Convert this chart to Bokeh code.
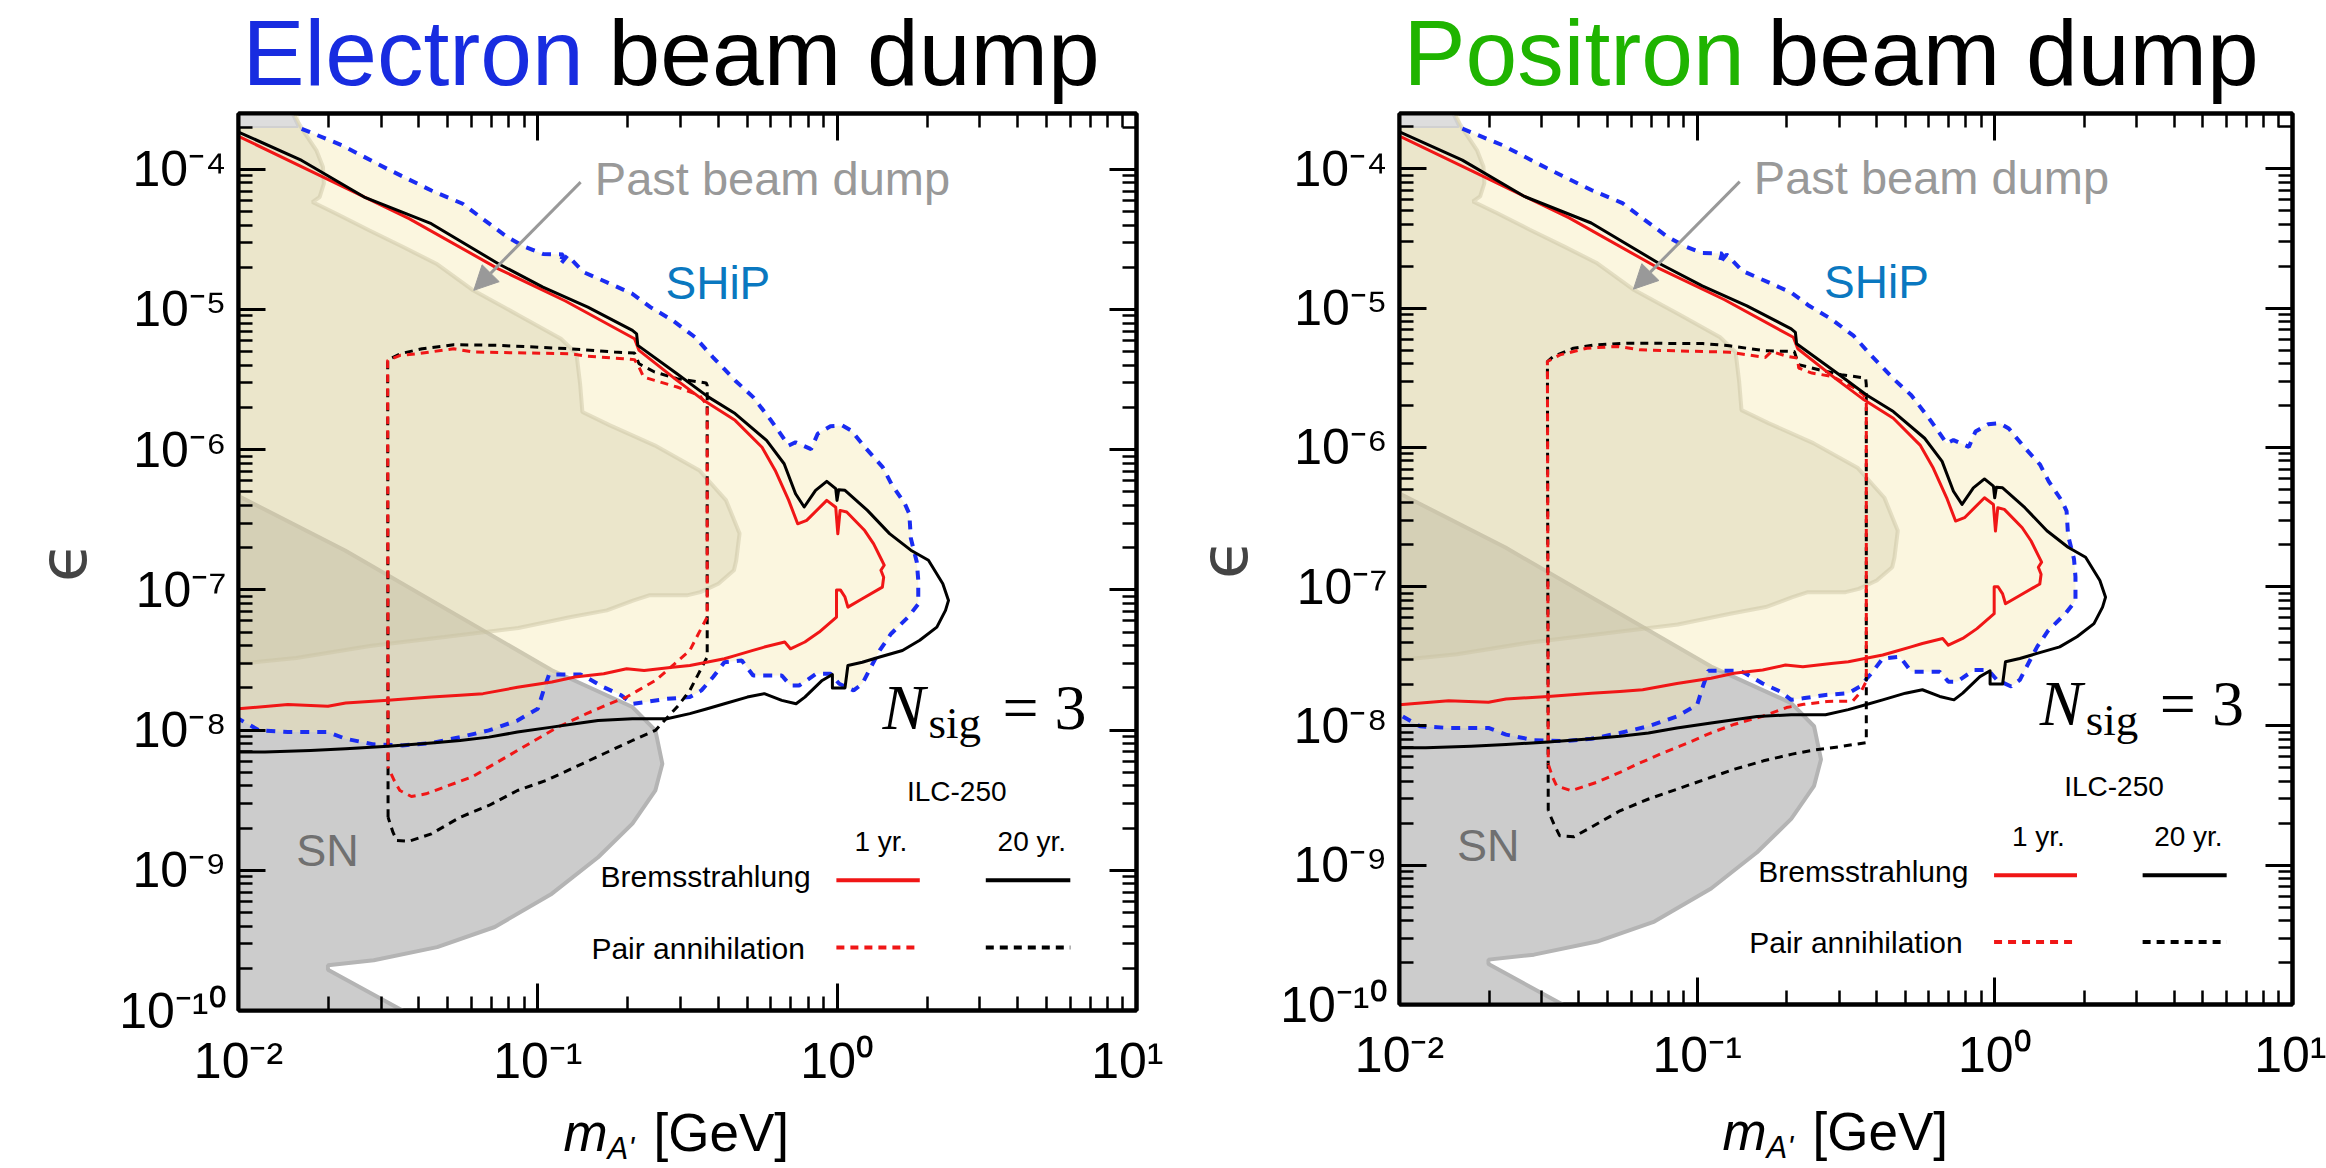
from bokeh.plotting import figure
from bokeh.models import (Range1d, FixedTicker, CustomJSTickFormatter, LogAxis,
                          Label, Arrow, NormalHead)
from bokeh.layouts import row, column
from bokeh.embed import file_html
from bokeh.resources import INLINE

# ---------------- axis ticks ----------------
x_ticks = [1e-2, 1e-1, 1e0, 1e1]
x_tick_labels = ["10⁻²", "10⁻¹", "10⁰", "10¹"]
y_ticks = [1e-10, 1e-9, 1e-8, 1e-7, 1e-6, 1e-5, 1e-4]
y_tick_labels = ["10⁻¹⁰", "10⁻⁹", "10⁻⁸", "10⁻⁷", "10⁻⁶", "10⁻⁵", "10⁻⁴"]
x_minor = [m * d for d in x_ticks[:-1] for m in range(2, 10)]
y_minor = [m * d for d in y_ticks for m in range(2, 10) if m * d <= 2.5e-4]

# ---------------- Bremsstrahlung, 20 yr (black solid) ----------------
brem20_x = [0.01, 0.01626, 0.0263, 0.04406, 0.0738, 0.104, 0.1469, 0.207, 0.2138, 0.2158,
            0.2917, 0.3707, 0.456, 0.581, 0.665, 0.726, 0.776, 0.847, 0.923, 0.989,
            0.999, 1.012, 1.062, 1.262, 1.496, 1.762, 2.018, 2.254, 2.355, 2.301,
            2.153, 1.888, 1.652, 1.387, 1.213, 1.086, 1.062, 0.964, 0.964, 0.891,
            0.780, 0.729, 0.653, 0.571, 0.501, 0.420, 0.368, 0.322, 0.270, 0.207,
            0.159, 0.133, 0.1114, 0.0855, 0.0686, 0.0550, 0.0441, 0.0316, 0.0228, 0.0174,
            0.01225, 0.01]
brem20_y = [1.845e-4, 1.156e-4, 6.34e-5, 4.09e-5, 2.12e-5, 1.445e-5, 1.04e-5, 7.10e-6, 6.71e-6, 5.55e-6,
            3.48e-6, 2.38e-6, 1.81e-6, 1.164e-6, 7.94e-7, 4.85e-7, 3.90e-7, 5.13e-7, 5.94e-7, 5.27e-7,
            4.35e-7, 5.18e-7, 5.13e-7, 3.69e-7, 2.52e-7, 1.92e-7, 1.626e-7, 1.107e-7, 8.41e-8, 7.14e-8,
            5.43e-8, 4.37e-8, 3.70e-8, 3.32e-8, 3.05e-8, 2.89e-8, 2.00e-8, 2.00e-8, 2.49e-8, 2.26e-8,
            1.72e-8, 1.54e-8, 1.63e-8, 1.82e-8, 1.72e-8, 1.54e-8, 1.42e-8, 1.31e-8, 1.205e-8, 1.205e-8,
            1.17e-8, 1.11e-8, 1.05e-8, 9.68e-9, 8.91e-9, 8.43e-9, 8.09e-9, 7.66e-9, 7.36e-9, 7.16e-9,
            6.97e-9, 6.97e-9]

# ---------------- Bremsstrahlung, 1 yr (red solid) ----------------
brem1_x = [0.01, 0.01866, 0.03715, 0.0738, 0.1236, 0.2104, 0.2178, 0.2917, 0.359, 0.456,
           0.561, 0.621, 0.689, 0.738, 0.791, 0.923, 0.989, 1.005, 1.023, 1.076,
           1.236, 1.324, 1.403, 1.436, 1.40, 1.43, 1.416, 1.213, 1.086, 1.062,
           1.025, 0.995, 0.995, 0.871, 0.780, 0.698, 0.668, 0.571, 0.523, 0.459,
           0.420, 0.322, 0.282, 0.2265, 0.198, 0.166, 0.133, 0.1114, 0.0855, 0.0656,
           0.0550, 0.0441, 0.0316, 0.0228, 0.0199, 0.01462, 0.01]
brem1_y = [1.72e-4, 9.05e-5, 4.45e-5, 1.95e-5, 1.15e-5, 6.18e-6, 5.11e-6, 3.12e-6, 2.24e-6, 1.62e-6,
           1.04e-6, 7.11e-7, 4.35e-7, 2.96e-7, 3.13e-7, 4.35e-7, 3.89e-7, 2.51e-7, 3.69e-7, 3.59e-7,
           2.65e-7, 2.13e-7, 1.66e-7, 1.50e-7, 1.38e-7, 1.23e-7, 1.047e-7, 8.65e-8, 7.54e-8, 8.89e-8,
           1.0e-7, 1.0e-7, 6.40e-8, 5.00e-8, 4.25e-8, 3.80e-8, 4.25e-8, 3.91e-8, 3.70e-8, 3.41e-8,
           3.23e-8, 2.89e-8, 2.81e-8, 2.66e-8, 2.74e-8, 2.52e-8, 2.39e-8, 2.20e-8, 2.02e-8, 1.82e-8,
           1.77e-8, 1.72e-8, 1.63e-8, 1.56e-8, 1.48e-8, 1.52e-8, 1.42e-8]

# ---------------- SHiP (blue dashed boundary) ----------------
ship_x = [0.01626, 0.0222, 0.0313, 0.0441, 0.0561, 0.0643, 0.0791, 0.0908, 0.104, 0.1213,
          0.1186, 0.1256, 0.1419, 0.1746, 0.207, 0.2377, 0.282, 0.335, 0.384, 0.456,
          0.524, 0.601, 0.689, 0.726, 0.818, 0.861, 0.95, 1.04, 1.114, 1.236,
          1.419, 1.517, 1.683, 1.742, 1.762, 1.845, 1.866, 1.866, 1.726, 1.514,
          1.387, 1.297, 1.213, 1.135, 1.016, 0.951, 0.851, 0.746, 0.698, 0.653,
          0.524, 0.480, 0.420, 0.385, 0.352, 0.322, 0.270, 0.2265, 0.207, 0.190,
          0.166, 0.145, 0.139, 0.109, 0.1045, 0.100, 0.0855, 0.0686, 0.0550, 0.0441,
          0.0353, 0.0283, 0.0228, 0.0199, 0.01462, 0.01172, 0.01]
ship_y = [1.945e-4, 1.48e-4, 1.01e-4, 7.06e-5, 5.68e-5, 4.56e-5, 3.28e-5, 2.79e-5, 2.49e-5, 2.47e-5,
          2.09e-5, 2.43e-5, 1.85e-5, 1.525e-5, 1.294e-5, 1.04e-5, 8.36e-6, 6.35e-6, 4.58e-6, 3.12e-6,
          2.37e-6, 1.62e-6, 1.07e-6, 1.13e-6, 1.01e-6, 1.30e-6, 1.47e-6, 1.49e-6, 1.37e-6, 1.045e-6,
          7.52e-7, 5.71e-7, 4.11e-7, 3.49e-7, 2.34e-7, 1.58e-7, 1.175e-7, 7.92e-8, 6.40e-8, 4.87e-8,
          3.70e-8, 2.82e-8, 2.14e-8, 1.92e-8, 2.14e-8, 2.52e-8, 2.52e-8, 2.08e-8, 2.08e-8, 2.45e-8,
          2.45e-8, 3.14e-8, 3.05e-8, 2.39e-8, 1.92e-8, 1.72e-8, 1.67e-8, 1.58e-8, 1.54e-8, 1.77e-8,
          2.02e-8, 2.39e-8, 2.49e-8, 2.49e-8, 1.92e-8, 1.42e-8, 1.17e-8, 9.95e-9, 8.91e-9, 8.09e-9,
          7.78e-9, 7.91e-9, 8.67e-9, 9.68e-9, 9.68e-9, 9.95e-9, 1.205e-8]

# ---------------- Past beam dump region ----------------
past_x = [0.008, 0.01445, 0.01644, 0.0182, 0.01915, 0.01928, 0.01866, 0.01766, 0.02123, 0.0274,
          0.0355, 0.0458, 0.0608, 0.0877, 0.1194, 0.1346, 0.1384, 0.1409, 0.1742, 0.2455,
          0.3467, 0.4256, 0.472, 0.460, 0.452, 0.401, 0.349, 0.315, 0.2355, 0.209,
          0.170, 0.129, 0.0861, 0.0488, 0.0275, 0.0156, 0.01107, 0.008]
past_y = [3e-4, 3e-4, 1.89e-4, 1.365e-4, 1.037e-4, 7.89e-5, 6.34e-5, 5.84e-5, 4.82e-5, 3.66e-5,
          2.79e-5, 2.12e-5, 1.37e-5, 8.93e-6, 6.19e-6, 4.84e-6, 2.96e-6, 1.855e-6, 1.49e-6, 1.074e-6,
          7.11e-7, 4.35e-7, 2.52e-7, 1.62e-7, 1.38e-7, 1.107e-7, 9.64e-8, 9.14e-8, 9.14e-8, 8.41e-8,
          7.14e-8, 6.40e-8, 5.35e-8, 4.61e-8, 3.98e-8, 3.27e-8, 3.04e-8, 2.9e-8]

# ---------------- small grey region, top-left ----------------
other_x = [0.008, 0.01445, 0.0158, 0.008]
other_y = [3e-4, 3e-4, 2.0e-4, 2.0e-4]

# ---------------- SN region ----------------
sn_x = [0.008, 0.01, 0.0227, 0.1114, 0.207, 0.247, 0.2606, 0.247, 0.207, 0.159,
        0.1114, 0.0718, 0.0461, 0.0283, 0.0199, 0.0199, 0.0353, 0.048, 0.008]
sn_y = [5.6e-7, 4.67e-7, 1.91e-7, 2.67e-8, 1.46e-8, 9.95e-9, 5.75e-9, 3.72e-9, 2.15e-9, 1.24e-9,
        6.81e-10, 3.94e-10, 2.83e-10, 2.28e-10, 2.10e-10, 1.95e-10, 1.0e-10, 7e-11, 7e-11]

# ---------------- Pair annihilation, electron beam dump ----------------
e_pair20_x = [0.0316, 0.0315, 0.0347, 0.0411, 0.0524, 0.0738, 0.128, 0.1803, 0.2104, 0.2178,
              0.2455, 0.292, 0.365, 0.368, 0.368, 0.344, 0.322, 0.295, 0.247, 0.207,
              0.166, 0.133, 0.1067, 0.0855, 0.0686, 0.055, 0.0441, 0.037, 0.0338, 0.0328, 0.0316]
e_pair20_y = [2.39e-9, 4.34e-6, 4.84e-6, 5.25e-6, 5.61e-6, 5.55e-6, 5.25e-6, 4.97e-6, 4.89e-6, 4.10e-6,
              3.58e-6, 3.21e-6, 2.99e-6, 2.88e-6, 3.32e-8, 2.52e-8, 1.92e-8, 1.50e-8, 9.95e-9, 8.43e-9,
              6.78e-9, 5.44e-9, 4.38e-9, 3.71e-9, 2.90e-9, 2.39e-9, 1.82e-9, 1.61e-9, 1.63e-9, 1.87e-9, 2.39e-9]
e_pair1_x = [0.0316, 0.0315, 0.0347, 0.0397, 0.0524, 0.0611, 0.128, 0.147, 0.193, 0.2104,
             0.2178, 0.2255, 0.2455, 0.292, 0.347, 0.368, 0.368, 0.344, 0.322, 0.295,
             0.270, 0.247, 0.2163, 0.198, 0.1734, 0.1455, 0.1167, 0.0935, 0.075, 0.0601,
             0.0504, 0.0423, 0.0378, 0.0346, 0.0331, 0.0316]
e_pair1_y = [5.44e-9, 4.34e-6, 4.71e-6, 4.84e-6, 5.25e-6, 4.97e-6, 4.84e-6, 4.64e-6, 4.46e-6, 4.39e-6,
             3.88e-6, 3.30e-6, 3.12e-6, 2.80e-6, 2.44e-6, 2.07e-6, 6.40e-8, 4.87e-8, 3.70e-8, 3.14e-8,
             2.66e-8, 2.26e-8, 1.92e-8, 1.72e-8, 1.54e-8, 1.31e-8, 1.05e-8, 8.0e-9, 6.08e-9, 4.62e-9,
             4.03e-9, 3.51e-9, 3.36e-9, 3.71e-9, 4.38e-9, 5.44e-9]

# ---------------- Pair annihilation, positron beam dump ----------------
p_pair20_x = [0.0316, 0.0314, 0.0328, 0.0384, 0.0456, 0.0581, 0.1045, 0.1285, 0.1694, 0.212,
              0.2193, 0.2564, 0.305, 0.368, 0.370, 0.370, 0.298, 0.249, 0.2086, 0.167,
              0.1337, 0.1071, 0.0857, 0.0687, 0.055, 0.044, 0.0385, 0.0345, 0.033, 0.0316]
p_pair20_y = [2.46e-9, 4.14e-6, 4.50e-6, 5.16e-6, 5.46e-6, 5.61e-6, 5.57e-6, 5.37e-6, 4.94e-6, 4.89e-6,
              3.93e-6, 3.61e-6, 3.33e-6, 3.15e-6, 2.82e-6, 7.6e-9, 7.08e-9, 6.74e-9, 6.28e-9, 5.62e-9,
              4.90e-9, 4.16e-9, 3.52e-9, 2.99e-9, 2.46e-9, 1.87e-9, 1.60e-9, 1.63e-9, 1.98e-9, 2.46e-9]
p_pair1_x = [0.0316, 0.0314, 0.0346, 0.0426, 0.0542, 0.0644, 0.1285, 0.1476, 0.1694, 0.178,
             0.201, 0.2173, 0.2193, 0.243, 0.284, 0.338, 0.362, 0.370, 0.370, 0.356,
             0.333, 0.273, 0.228, 0.1995, 0.167, 0.1337, 0.112, 0.0937, 0.0751, 0.0629,
             0.055, 0.046, 0.0378, 0.0337, 0.0327, 0.0316]
p_pair1_y = [5.32e-9, 4.14e-6, 4.62e-6, 5.16e-6, 5.31e-6, 5.02e-6, 4.83e-6, 4.62e-6, 4.43e-6, 4.89e-6,
             4.50e-6, 4.38e-6, 3.72e-6, 3.42e-6, 3.24e-6, 2.67e-6, 2.39e-6, 2.14e-6, 2.10e-8, 1.78e-8,
             1.51e-8, 1.50e-8, 1.43e-8, 1.355e-8, 1.18e-8, 1.03e-8, 8.98e-9, 7.60e-9, 6.28e-9, 5.32e-9,
             4.64e-9, 3.94e-9, 3.43e-9, 3.72e-9, 4.27e-9, 5.32e-9]

for a, b in [(brem20_x, brem20_y), (brem1_x, brem1_y), (ship_x, ship_y), (past_x, past_y),
             (sn_x, sn_y), (e_pair20_x, e_pair20_y), (e_pair1_x, e_pair1_y),
             (p_pair20_x, p_pair20_y), (p_pair1_x, p_pair1_y)]:
    assert len(a) == len(b), (len(a), len(b))

# ---------------- styles ----------------
RED = "#f01616"
BLUE = "#1a2cf2"
SANS = "Liberation Sans"
TITLE_H = 108
XLAB_H = 78


def tick_formatter(vals, labels):
    return CustomJSTickFormatter(args=dict(vals=vals, labels=labels), code="""
        for (let i = 0; i < vals.length; i++) {
            if (Math.abs(Math.log10(tick) - Math.log10(vals[i])) < 1e-6) { return labels[i]; }
        }
        return "";
    """)


def blank_formatter():
    return CustomJSTickFormatter(code="return '';")


def style_axis(ax, major, minor):
    ax.ticker = FixedTicker(ticks=major, minor_ticks=minor)
    ax.axis_line_width = 4
    ax.axis_line_color = "black"
    ax.major_tick_in = 27
    ax.major_tick_out = 0
    ax.minor_tick_in = 14
    ax.minor_tick_out = 0
    ax.major_tick_line_width = 3
    ax.minor_tick_line_width = 2.5
    ax.major_tick_line_color = "black"
    ax.minor_tick_line_color = "black"


def lab(p, text, x, y, size, color="black", font=SANS, style="normal",
        align="left", xo=0, yo=0, baseline="alphabetic"):
    p.add_layout(Label(x=x, y=y, text=text, text_font=font, text_font_size=f"{size}px",
                       text_color=color, text_font_style=style, text_align=align,
                       text_baseline=baseline, x_offset=xo, y_offset=yo))


def strip(height, fw, bl, br):
    # frame matches the plot frame horizontally, so data x == canvas x
    s = figure(frame_width=fw, frame_height=height,
               min_border_left=bl, min_border_right=br, min_border_top=0, min_border_bottom=0,
               x_range=Range1d(bl, bl + fw), y_range=Range1d(0, height),
               x_axis_location=None, y_axis_location=None,
               output_backend="svg", toolbar_location=None,
               background_fill_color="white", border_fill_color="white")
    s.grid.visible = False
    s.outline_line_color = None
    return s


def title_strip(word, word_color, x_word, x_rest, fw, bl, br):
    s = strip(TITLE_H, fw, bl, br)
    lab(s, word, x_word, 56, 93, color=word_color, baseline="middle")
    lab(s, "beam dump", x_rest, 56, 93, baseline="middle")
    return s


def xlabel_strip(x_m, x_gev, fw, bl, br):
    s = strip(XLAB_H, fw, bl, br)
    lab(s, "m", x_m, 37, 53, style="italic", baseline="middle")
    lab(s, "A'", x_m + 44, 21, 31, style="italic", baseline="middle")
    lab(s, "[GeV]", x_gev, 37, 53, baseline="middle")
    return s


def panel(pair20_x, pair20_y, pair1_x, pair1_y, fw, fh, bl, br, bt, bb):
    p = figure(x_axis_type="log", y_axis_type="log",
               x_range=Range1d(1e-2, 1e1), y_range=Range1d(1e-10, 2.5e-4),
               frame_width=fw, frame_height=fh,
               min_border_left=bl, min_border_right=br, min_border_top=bt, min_border_bottom=bb,
               output_backend="svg", toolbar_location=None,
               background_fill_color="white", border_fill_color="white")
    p.xgrid.grid_line_color = None
    p.ygrid.grid_line_color = None
    p.outline_line_color = "black"
    p.outline_line_width = 4

    # axes
    style_axis(p.xaxis[0], x_ticks, x_minor)
    style_axis(p.yaxis[0], y_ticks, y_minor)
    p.xaxis[0].formatter = tick_formatter(x_ticks, x_tick_labels)
    p.yaxis[0].formatter = tick_formatter(y_ticks, y_tick_labels)
    for ax in (p.xaxis[0], p.yaxis[0]):
        ax.major_label_text_font = SANS
        ax.major_label_text_font_size = "50px"
        ax.major_label_text_color = "black"
    p.xaxis[0].major_label_standoff = 22
    p.yaxis[0].major_label_standoff = 12
    p.yaxis[0].axis_label = "ϵ"
    p.yaxis[0].axis_label_text_font = "DejaVu Sans"
    p.yaxis[0].axis_label_text_font_size = "66px"
    p.yaxis[0].axis_label_text_font_style = "normal"
    p.yaxis[0].axis_label_standoff = 14

    top = LogAxis(formatter=blank_formatter())
    right = LogAxis(formatter=blank_formatter())
    style_axis(top, x_ticks, x_minor)
    style_axis(right, y_ticks, y_minor)
    top.major_label_text_font_size = "1px"
    right.major_label_text_font_size = "1px"
    top.major_label_standoff = 0
    right.major_label_standoff = 0
    p.add_layout(top, "above")
    p.add_layout(right, "right")

    # filled regions
    p.patch(sn_x, sn_y, fill_color="#cccccc", line_color="#b4b4b4", line_width=4)
    p.patch([0.008, 0.0155] + ship_x + [0.008], [3e-4, 3e-4] + ship_y + [1.3e-8],
            fill_color="#f5e9b0", fill_alpha=0.4, line_color=None)
    p.patch(past_x, past_y, fill_color="#c8c0a0", fill_alpha=0.3,
            line_color="#c8c0a0", line_alpha=0.45, line_width=4)
    p.patch(other_x, other_y, fill_color="#dddddd", line_color="#d0d0d0", line_width=2)

    # curves
    p.line(ship_x, ship_y, line_color=BLUE, line_width=4, line_dash="9 8")
    p.line(pair20_x, pair20_y, line_color="black", line_width=3, line_dash="8 6")
    p.line(pair1_x, pair1_y, line_color=RED, line_width=3, line_dash="8 6", line_dash_offset=7)
    p.line(brem1_x, brem1_y, line_color=RED, line_width=3, line_join="round")
    p.line(brem20_x, brem20_y, line_color="black", line_width=3, line_join="round")

    # legend samples
    p.line([0.994, 1.888], [8.48e-10, 8.48e-10], line_color=RED, line_width=4)
    p.line([3.137, 6.01], [8.48e-10, 8.48e-10], line_color="black", line_width=4)
    p.line([0.994, 1.888], [2.81e-10, 2.81e-10], line_color=RED, line_width=4, line_dash="8 6")
    p.line([3.137, 6.01], [2.81e-10, 2.81e-10], line_color="black", line_width=4, line_dash="8 6")

    # arrow
    p.add_layout(Arrow(end=NormalHead(size=24, fill_color="#999999", line_color="#999999"),
                       x_start=0.139, y_start=8.1e-5, x_end=0.0611, y_end=1.37e-5,
                       line_color="#999999", line_width=3))

    # texts in the plot
    lab(p, "Past beam dump", 0.155, 8.65e-5, 47, color="#999999")
    lab(p, "SHiP", 0.267, 1.535e-5, 46, color="#0a78c0")
    lab(p, "SN", 0.0156, 1.38e-9, 45, color="#707070")
    lab(p, "N", 1.416, 1.45e-8, 64, font="Liberation Serif", style="italic")
    lab(p, "sig", 1.416, 1.45e-8, 45, font="Liberation Serif", xo=46, yo=-16)
    lab(p, "= 3", 1.416, 1.45e-8, 64, font="Liberation Serif", xo=120)
    lab(p, "ILC-250", 1.71, 3.66e-9, 28)
    lab(p, "1 yr.", 1.40, 1.60e-9, 28, align="center")
    lab(p, "20 yr.", 4.47, 1.60e-9, 28, align="center")
    lab(p, "Bremsstrahlung", 0.815, 9.04e-10, 30, align="right")
    lab(p, "Pair annihilation", 0.780, 2.79e-10, 30, align="right")
    return p


# left panel: frame 238..1136 (x), 113..1010 (y)
p1 = panel(e_pair20_x, e_pair20_y, e_pair1_x, e_pair1_y, 898, 897, 238, 27, 5, 80)
t1 = title_strip("Electron", "#182ce0", 242, 608, 898, 238, 27)
x1 = xlabel_strip(563, 653, 898, 238, 27)

# right panel: frame 1399..2292 (x), 113..1004 (y)
p2 = panel(p_pair20_x, p_pair20_y, p_pair1_x, p_pair1_y, 893, 891, 236, 34, 5, 86)
t2 = title_strip("Positron", "#1fb400", 240, 604, 893, 236, 34)
x2 = xlabel_strip(559, 649, 893, 236, 34)

layout = row(column(t1, p1, x1), column(t2, p2, x2))
open("out.html", "w").write(file_html(layout, INLINE))
